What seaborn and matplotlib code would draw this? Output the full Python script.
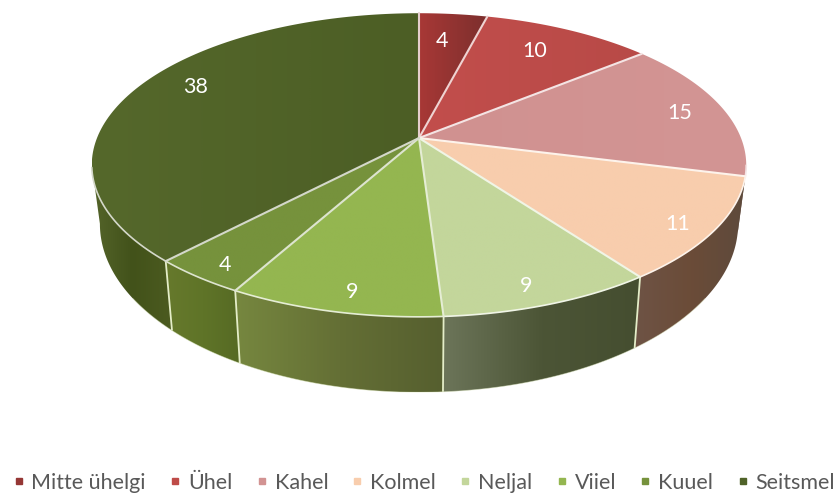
import numpy as np
import pandas as pd
import seaborn as sns
import matplotlib
matplotlib.use("Agg")
import matplotlib.pyplot as plt
from matplotlib.colors import ListedColormap
from matplotlib.lines import Line2D
from matplotlib.patches import Polygon

categories = ["Mitte ühelgi", "Ühel", "Kahel", "Kolmel", "Neljal", "Viiel", "Kuuel", "Seitsmel"]
values = [4, 10, 15, 11, 9, 9, 4, 38]

top_colors = ["#953735", "#BE4B48", "#D29392", "#F8CDAD", "#C3D69B", "#94B650", "#76923C", "#4F6228"]
top_stops = [
    ["#A83836", "#7C2F2D"],
    ["#C24E4C", "#B84A47"],
    ["#D09190", "#D39594"],
    ["#F8CDAD", "#F8CDAD"],
    ["#C3D69B", "#C3D69B"],
    ["#94B650", "#94B650"],
    ["#76923C", "#76923C"],
    ["#55682B", "#4C5E25"],
]
side_stops = [
    ["#6E2826", "#6E2826"],
    ["#7A3A38", "#7A3A38"],
    ["#6A5550", "#6A4F42"],
    ["#6E5345", "#6B4C38", "#5E4A3C"],
    ["#6C7559", "#4C5536", "#454E30"],
    ["#76873F", "#646F35", "#565F2F"],
    ["#66792C", "#5F7428", "#566A24"],
    ["#54642A", "#42521A", "#4C5B20"],
]
label_xy = [(442, 41), (535, 51), (680, 113), (678, 224), (526, 286), (352, 292), (225, 265), (196, 87)]

W, H = 840, 495
CX = 419
TOP = dict(rx=322, ry=147, cy=138)
LOW = dict(rx=314, ry=163, cy=194)
K = 0.178
SIL_R, SIL_L = 100.2, 259.8

sns.set_theme(style="white")
plt.rcParams["font.family"] = ["Lato", "DejaVu Sans"]

df = pd.DataFrame({"category": categories, "value": values})
df["end"] = df["value"].cumsum() / df["value"].sum() * 360
df["start"] = df["end"] - df["value"] / df["value"].sum() * 360


def rim(theta, g):
    t = np.radians(theta)
    s = 1 / (1 + K * np.cos(t))
    return CX + g["rx"] * np.sin(t) * s, g["cy"] - g["ry"] * np.cos(t) * s


def gradient_fill(pts, stops, zorder):
    poly = Polygon(pts, closed=True, fc="none", ec="none", zorder=zorder)
    ax.add_patch(poly)
    cmap = ListedColormap(sns.blend_palette(stops, n_colors=64))
    x0, x1 = pts[:, 0].min(), pts[:, 0].max()
    y0, y1 = pts[:, 1].min(), pts[:, 1].max()
    img = ax.imshow(np.linspace(0, 1, 128)[None, :], cmap=cmap, aspect="auto",
                    extent=(x0, x1, y1, y0), zorder=zorder, interpolation="bilinear")
    img.set_clip_path(poly)


fig = plt.figure(figsize=(W / 100, H / 100), dpi=100)
ax = fig.add_axes([0, 0, 1, 1])
sns.despine(ax=ax, left=True, bottom=True)
ax.set_axis_off()

# side wall
for i, row in df.iterrows():
    a, b = max(row["start"], SIL_R), min(row["end"], SIL_L)
    if b <= a:
        continue
    th = np.linspace(a, b, 80)
    tx, ty = rim(th, TOP)
    lx, ly = rim(th, LOW)
    gradient_fill(np.r_[np.c_[tx, ty], np.c_[lx, ly][::-1]], side_stops[i], 1)
    if SIL_R + 10 < row["end"] < SIL_L:
        ex, ey = rim(row["end"], TOP)
        fx, fy = rim(row["end"], LOW)
        ax.plot([ex, fx], [ey, fy], color="#E4EDC8", lw=1.3, zorder=2, solid_capstyle="butt")

lx, ly = rim(np.linspace(SIL_R + 25, SIL_L - 25, 200), LOW)
ax.plot(lx, ly, color="#E4EDC8", lw=0.6, alpha=0.5, zorder=2)

# top face
for i, row in df.iterrows():
    th = np.linspace(row["start"], row["end"], 120)
    x, y = rim(th, TOP)
    gradient_fill(np.r_[[[CX, TOP["cy"]]], np.c_[x, y]], top_stops[i], 3)

for i, row in df.iterrows():
    th = np.linspace(row["start"], row["end"], 120)
    x, y = rim(th, TOP)
    edge = sns.blend_palette([top_colors[i], "#FFFFFF"], n_colors=5)[3]
    ax.plot(np.r_[CX, x[0]], np.r_[TOP["cy"], y[0]], color=edge, lw=1.5, zorder=4, solid_capstyle="round")
    vis = (th > SIL_R) & (th < SIL_L)
    if vis.any():
        ax.plot(x[vis], y[vis], color=edge, lw=1.2, zorder=4)

for (px, py), v in zip(label_xy, values):
    ax.text(px, py, str(v), color="white", fontsize=15.5, ha="center", va="center", zorder=5)

ax.set_xlim(0, W)
ax.set_ylim(H, 0)

handles = [Line2D([], [], ls="none", marker="s", ms=5, mfc=c, mec=c, label=n)
           for c, n in zip(top_colors, categories)]
leg = ax.legend(handles=handles, ncol=8, loc="center", bbox_to_anchor=(423.5, 483),
                bbox_transform=ax.transData, frameon=False, fontsize=15.5, labelcolor="#595959",
                handlelength=0.6, handletextpad=0.3, columnspacing=1.06,
                borderpad=0, borderaxespad=0)

fig.savefig("out.png", dpi=100, facecolor="white")
